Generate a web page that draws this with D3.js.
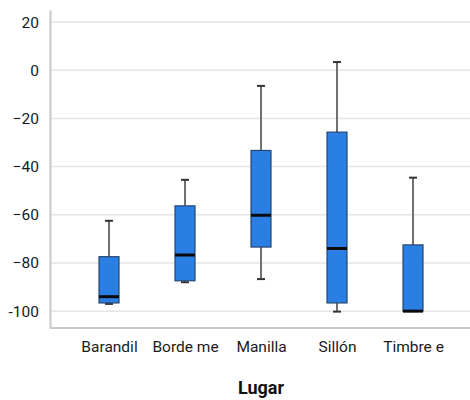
<html>
  <body style="margin:0;background:#fff">
    <script src="https://cdn.jsdelivr.net/npm/d3@7"></script>
    <div id="main"></div>
    <script>
      // data
      const lugares = ["Barandil", "Borde me", "Manilla", "Sillón", "Timbre e"];
      const minimo = [-97, -88, -86.7, -100.2, -100];
      const q1 = [-96.6, -87.4, -73.4, -96.6, -100];
      const mediana = [-94, -76.7, -60.2, -74, -100];
      const q3 = [-77.4, -56.3, -33.3, -25.7, -72.5];
      const maximo = [-62.5, -45.5, -6.5, 3.4, -44.6];
      const yTicks = [20, 0, -20, -40, -60, -80, -100];
      const yTickLabels = ["20", "0", "\u221220", "\u221240", "\u221260", "\u221280", "-100"];

      const W = 470, H = 400;
      const font = "'Roboto', sans-serif";

      const svg = d3.select("#main").append("svg")
        .attr("width", W).attr("height", H);

      const y = d3.scaleLinear().domain([-107, 25]).range([328, 10]);
      const x = d3.scalePoint().domain(lugares).range([71, 451]).padding(0.5);

      // gridlines
      svg.append("g").selectAll("line").data(yTicks).join("line")
        .attr("x1", 50).attr("x2", W)
        .attr("y1", d => y(d)).attr("y2", d => y(d))
        .attr("stroke", "#e6e6e6").attr("stroke-width", 1.5);

      // y axis
      const yAxis = svg.append("g").attr("transform", "translate(50,0)")
        .call(d3.axisLeft(y).tickValues(yTicks).tickSize(0).tickPadding(11)
          .tickFormat((d, i) => yTickLabels[i]));
      yAxis.select(".domain").attr("stroke", "#c8c8c8").attr("stroke-width", 2);
      yAxis.selectAll("text").attr("font-family", font).attr("font-size", 15.5).attr("fill", "#1a1a1a");

      // x axis
      const xAxis = svg.append("g").attr("transform", "translate(0,328)")
        .call(d3.axisBottom(x).tickSize(0).tickPadding(13));
      xAxis.select(".domain").attr("d", "M50,0H" + W).attr("stroke", "#c8c8c8").attr("stroke-width", 2);
      xAxis.selectAll("text").attr("font-family", font).attr("font-size", 15.5).attr("fill", "#1a1a1a");

      const data = lugares.map((l, i) => ({
        l, min: minimo[i], q1: q1[i], med: mediana[i], q3: q3[i], max: maximo[i]
      }));

      const bw = 20, cap = 8;
      const g = svg.append("g").selectAll("g").data(data).join("g")
        .attr("transform", d => `translate(${x(d.l)},0)`);

      // whiskers
      g.append("line").attr("y1", d => y(d.max)).attr("y2", d => y(d.q3))
        .attr("stroke", "#707070").attr("stroke-width", 2);
      g.append("line").attr("y1", d => y(d.q1)).attr("y2", d => y(d.min))
        .attr("stroke", "#707070").attr("stroke-width", 2);
      g.append("line").attr("x1", -cap / 2).attr("x2", cap / 2)
        .attr("y1", d => y(d.max)).attr("y2", d => y(d.max))
        .attr("stroke", "#333").attr("stroke-width", 2);
      g.append("line").attr("x1", -cap / 2).attr("x2", cap / 2)
        .attr("y1", d => y(d.min)).attr("y2", d => y(d.min))
        .attr("stroke", "#333").attr("stroke-width", 2);

      // boxes
      g.append("rect").attr("x", -bw / 2).attr("width", bw)
        .attr("y", d => y(d.q3)).attr("height", d => y(d.q1) - y(d.q3))
        .attr("fill", "#2b7fe3").attr("stroke", "#26476f").attr("stroke-width", 1.2);

      // medians
      g.append("line").attr("x1", -bw / 2).attr("x2", bw / 2)
        .attr("y1", d => y(d.med)).attr("y2", d => y(d.med))
        .attr("stroke", "#0a0a0a").attr("stroke-width", 3);

      // axis title
      svg.append("text").text("Lugar")
        .attr("x", 261).attr("y", 394).attr("text-anchor", "middle")
        .attr("font-family", font).attr("font-size", 18).attr("font-weight", "bold")
        .attr("fill", "#111");
    </script>
  </body>
</html>
